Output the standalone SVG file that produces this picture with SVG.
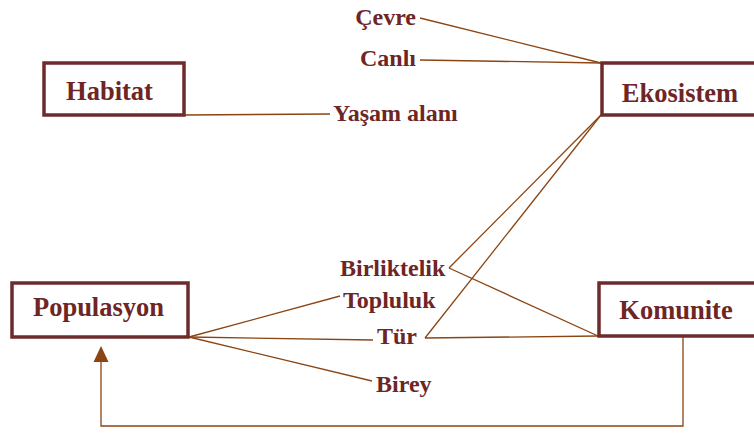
<svg xmlns="http://www.w3.org/2000/svg" width="754" height="433" viewBox="0 0 754 433">
<style>
.box{fill:#fff;stroke:#6e2b2b;stroke-width:3.5}
.t{font-family:"Liberation Serif","Times New Roman",serif;font-weight:bold;font-size:24px;fill:#6e2525}
.n{font-size:26.5px}
.c{stroke:#8b4513;stroke-width:1.3;fill:none}
.ah{fill:#8b4513}
</style>
<g id="connectors">
<line class="c" x1="420" y1="18" x2="601" y2="63"/>
<line class="c" x1="420" y1="60" x2="601" y2="63"/>
<line class="c" x1="185" y1="115" x2="330" y2="114"/>
<line class="c" x1="601" y1="115" x2="449" y2="268"/>
<line class="c" x1="601" y1="115" x2="425" y2="338"/>
<line class="c" x1="598" y1="336" x2="449" y2="268"/>
<line class="c" x1="598" y1="336" x2="425" y2="338"/>
<line class="c" x1="189" y1="337" x2="340" y2="296"/>
<line class="c" x1="189" y1="337" x2="373" y2="340"/>
<line class="c" x1="189" y1="337" x2="372" y2="381"/>
<polyline class="c" points="683,336 683,426 101,426 101,360"/>
<polygon class="ah" points="101,346 93.5,362 108.5,362"/>
</g>
<g id="habitat"><rect class="box" x="44" y="63" width="140" height="52"/><text class="t n" x="109.5" y="100" text-anchor="middle">Habitat</text></g>
<g id="ekosistem"><rect class="box" x="602" y="63" width="160" height="52"/><text class="t n" x="680" y="102" text-anchor="middle">Ekosistem</text></g>
<g id="populasyon"><rect class="box" x="12" y="283" width="176" height="54"/><text class="t n" x="98.5" y="316" text-anchor="middle">Populasyon</text></g>
<g id="komunite"><rect class="box" x="599" y="283" width="160" height="53"/><text class="t n" x="676" y="319" text-anchor="middle">Komunite</text></g>
<g id="labels">
<text class="t" x="416" y="25" text-anchor="end">Çevre</text>
<text class="t" x="416" y="66" text-anchor="end">Canlı</text>
<text class="t" x="333" y="121">Yaşam alanı</text>
<text class="t" x="340" y="276">Birliktelik</text>
<text class="t" x="343" y="308">Topluluk</text>
<text class="t" x="377" y="344">Tür</text>
<text class="t" x="376" y="392">Birey</text>
</g>
</svg>
